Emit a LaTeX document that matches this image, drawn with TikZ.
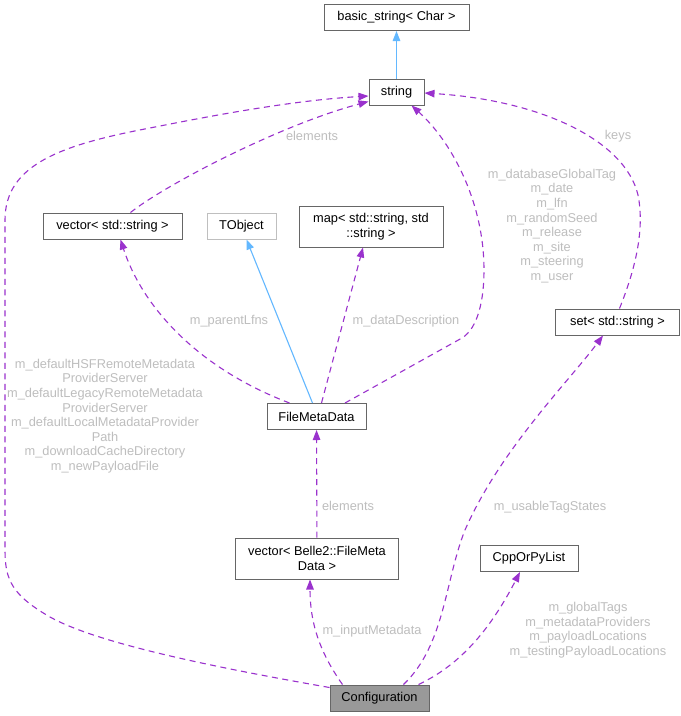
\documentclass[tikz,border=0pt]{standalone}
\usepackage{fontspec}
\setmainfont{Liberation Sans}
\usetikzlibrary{arrows.meta,calc}
\definecolor{edgepurple}{HTML}{9A32CD}
\definecolor{inhblue}{HTML}{63B8FF}
\definecolor{boxgray}{HTML}{666666}
\definecolor{lightbox}{HTML}{BFBFBF}
\definecolor{lblgray}{HTML}{BEBEBE}
\definecolor{conffill}{HTML}{999999}
\begin{document}
\begin{tikzpicture}[x=1pt,y=-1pt,
  every node/.style={font=\fontsize{12.8}{14.6}\selectfont},
  cls/.style={draw=boxgray, fill=white, line width=1pt, inner sep=0pt, minimum height=26pt, align=center},
  cls2/.style={cls, minimum height=41pt},
  usage/.style={draw=edgepurple, line width=1.1pt, dash pattern=on 6pt off 4.5pt, -{Triangle[length=10pt,width=7.5pt]}},
  inherit/.style={draw=inhblue, line width=1.1pt, -{Triangle[length=10pt,width=7.5pt]}},
  lbl/.style={text=lblgray, align=center, inner sep=0pt}]
\fill[white] (0,0) rectangle (681,716);
\useasboundingbox (0,0) rectangle (681,716);

% classes
\node[cls, minimum width=145pt] (bs) at (396.5,17.5) {basic\_string< Char >};
\node[cls, minimum width=55pt] (str) at (396.5,92) {string};
\node[cls, minimum width=139pt] (vs) at (112.5,226) {vector< std::string >};
\node[cls, draw=lightbox, minimum width=69pt] (tobj) at (241.5,226) {TObject};
\node[cls2, minimum width=144pt] (map) at (371,226.5) {map< std::string, std\\::string >};
\node[cls, minimum width=124pt] (set) at (617.5,322) {set< std::string >};
\node[cls, minimum width=99pt] (fmd) at (316.5,416.5) {FileMetaData};
\node[cls2, minimum width=163pt] (vb) at (317,558.5) {vector< Belle2::FileMeta\\Data >};
\node[cls, minimum width=98pt] (cpp) at (529,558.5) {CppOrPyList};
\node[cls, fill=conffill, minimum width=99pt] (conf) at (379.5,698) {Configuration};

% inheritance
\draw[inherit] (str) -- (bs);
\draw[inherit] ($(fmd.north)+(-4,0)$) -- ($(tobj.south)+(5,0)$);

% usage
\draw[usage] ($(vs.north)+(18,0)$) .. controls (165,185) and (280,125) .. ($(str.south west)+(0,-4)$);
\draw[usage] ($(conf.north west)+(0,3)$) .. controls (230,670) and (100,645) .. (50,617)
   .. controls (12,595) and (5,580) .. (5,550) -- (5,220)
   .. controls (5,165) and (60,145) .. (150,128)
   .. controls (230,112) and (300,100) .. ($(str.west)+(0,4)$);
\draw[usage] ($(fmd.north)+(-27,0)$) .. controls (190,365) and (140,300) .. ($(vs.south)+(8,0)$);
\draw[usage] ($(fmd.north)+(5,0)$) -- ($(map.south)+(-8,0)$);
\draw[usage] ($(fmd.north)+(28.5,0)$) -- (462,338) .. controls (478,328) and (484,300) .. (484,270)
   .. controls (484,200) and (450,140) .. ($(str.south)+(15,0)$);
\draw[usage] ($(set.north)+(2,0)$) .. controls (635,270) and (645,230) .. (638,195)
   .. controls (625,140) and (540,100) .. ($(str.east)+(0,1)$);
\draw[usage] (vb) -- (fmd);
\draw[usage] ($(conf.north)+(24,0)$) .. controls (445,645) and (445,580) .. (465,530)
   .. controls (500,450) and (570,380) .. ($(set.south)+(-14.5,0)$);
\draw[usage] ($(conf.north)+(-37,0)$) .. controls (318,650) and (310,620) .. ($(vb.south)+(-7,0)$);
\draw[usage] ($(conf.north)+(39,0)$) .. controls (460,665) and (490,630) .. ($(cpp.south)+(-9,0)$);

% labels
\node[lbl] (l1) at (312,136) {elements};
\node[lbl] (l2) at (105,416) {m\_defaultHSFRemoteMetadata\\ProviderServer\\m\_defaultLegacyRemoteMetadata\\ProviderServer\\m\_defaultLocalMetadataProvider\\Path\\m\_downloadCacheDirectory\\m\_newPayloadFile};
\node[lbl] (l3) at (229,321) {m\_parentLfns};
\node[lbl] (l4) at (406,321) {m\_dataDescription};
\node[lbl] (l5) at (552,226) {m\_databaseGlobalTag\\m\_date\\m\_lfn\\m\_randomSeed\\m\_release\\m\_site\\m\_steering\\m\_user};
\node[lbl] (l6) at (618,136) {keys};
\node[lbl] (l7) at (348,506) {elements};
\node[lbl] (l8) at (550,507) {m\_usableTagStates};
\node[lbl] (l9) at (372,631) {m\_inputMetadata};
\node[lbl] (l10) at (588,630) {m\_globalTags\\m\_metadataProviders\\m\_payloadLocations\\m\_testingPayloadLocations};
\end{tikzpicture}
\end{document}
